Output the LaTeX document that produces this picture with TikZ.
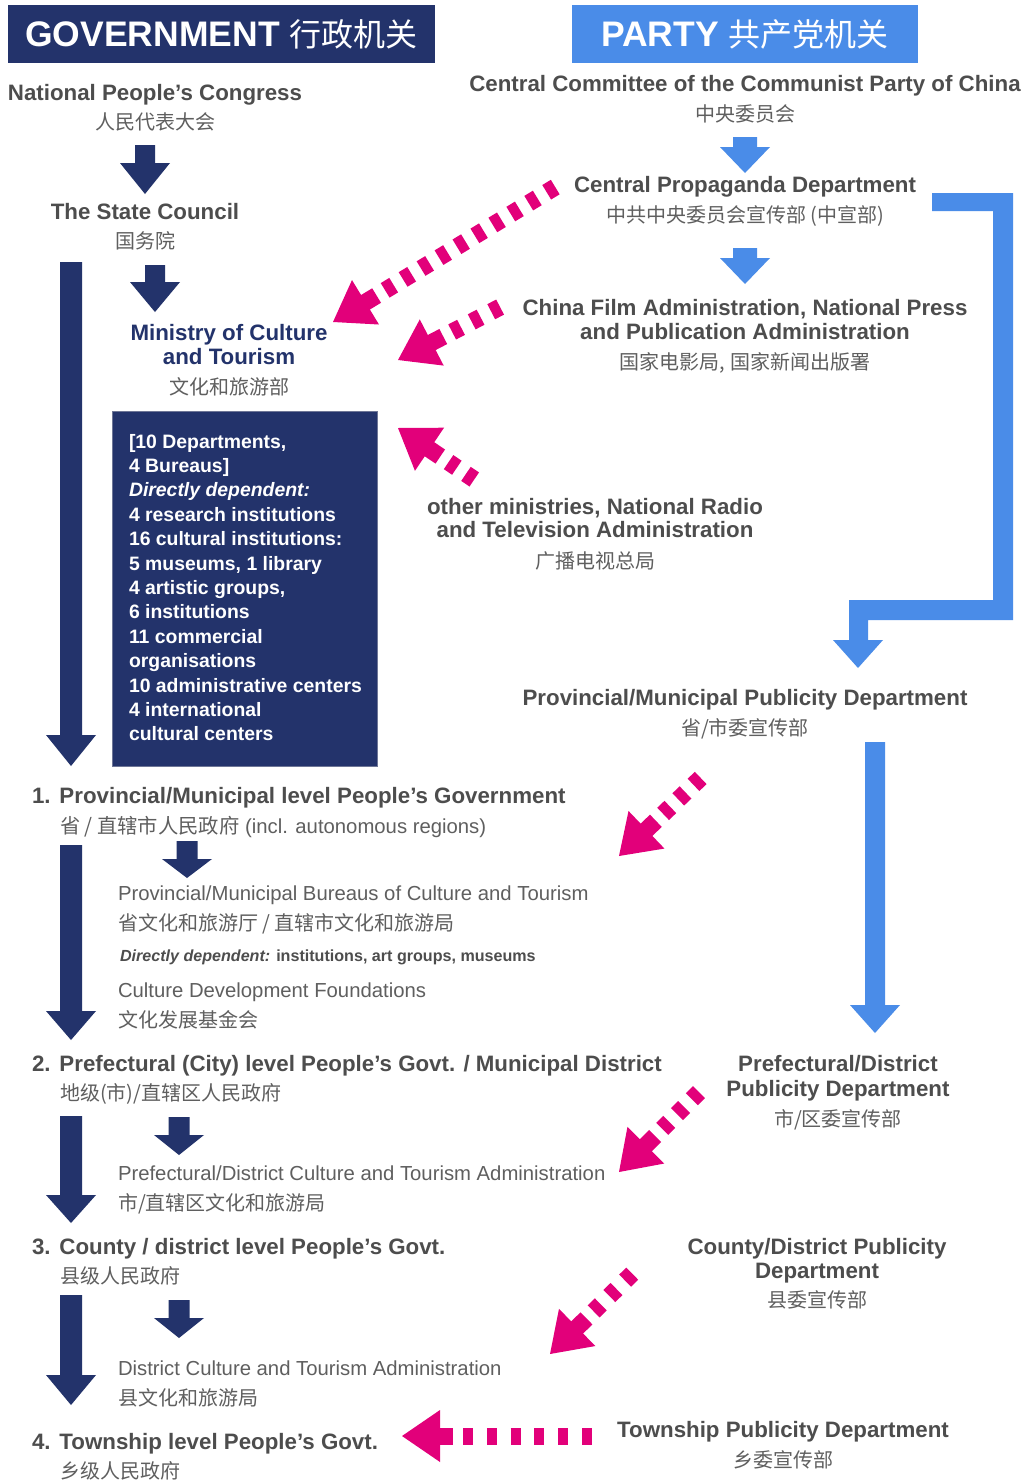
\documentclass[tikz,border=0pt]{standalone}
\usepackage{fontspec}
\setmainfont{Liberation Sans}
\newfontfamily\zhfont{Noto Sans CJK SC}
\usetikzlibrary{calc}
\definecolor{navy}{RGB}{35,51,107}
\definecolor{pblue}{RGB}{74,140,232}
\definecolor{pinkc}{RGB}{226,0,122}
\definecolor{tgray}{RGB}{77,77,77}
\definecolor{lgray}{RGB}{95,95,95}
\definecolor{boxedge}{RGB}{110,118,150}
% block arrow pointing down: colour, x, y top, y tip, head length, shaft half width
\newcommand\blockarrow[6]{%
  \fill[#1] ({#2-#6},#3) -- ({#2+#6},#3) -- ({#2+#6},{#4-#5}) -- ({#2+25},{#4-#5})
    -- (#2,#4) -- ({#2-25},{#4-#5}) -- ({#2-#6},{#4-#5}) -- cycle;}
% dashed pink arrow: start coordinate #1, tip coordinate #2, number of dashes #3, dash period #4
\newcommand\pinkarrow[4]{%
  \coordinate (#2-b) at ($(#2)!38pt!(#1)$);
  \fill[pinkc] (#2) -- ($(#2-b)!26pt!90:(#2)$) -- ($(#2-b)!26pt!-90:(#2)$) -- cycle;
  \draw[pinkc, line width=17pt] ($(#2)!36pt!(#1)$) -- ($(#2)!51pt!(#1)$);
  \foreach \i [evaluate=\i as \dA using 61+#4*(\i-1), evaluate=\i as \dB using 71+#4*(\i-1)] in {1,...,#3}
    {\draw[pinkc, line width=17pt] ($(#2)!\dA pt!(#1)$) -- ($(#2)!\dB pt!(#1)$);}}
\begin{document}
\begin{tikzpicture}[x=1pt,y=-1pt,
  every node/.style={inner sep=0pt, outer sep=0pt},
  lbl/.style={font=\fontsize{22.3}{24}\selectfont\bfseries, text=tgray, anchor=base},
  lblw/.style={lbl, anchor=base west},
  navylbl/.style={lbl, text=navy},
  zh/.style={font=\fontsize{20}{24}\selectfont\zhfont, text=lgray, anchor=base},
  zhw/.style={zh, anchor=base west},
  reg/.style={font=\fontsize{20.3}{24}\selectfont, text=lgray, anchor=base west},
  header/.style={font=\fontsize{35.5}{40}\selectfont\bfseries, text=white, minimum height=58pt}]
\useasboundingbox (0,0) rectangle (1026,1483);
\fill[white] (0,0) rectangle (1026,1483);

% headers
\node[header, fill=navy, minimum width=427pt] (gov) at (221.5,34) {GOVERNMENT {\fontsize{32}{36}\selectfont\zhfont\mdseries 行政机关}};
\node[header, fill=pblue, minimum width=346pt] (party) at (745,34) {PARTY {\fontsize{32}{36}\selectfont\zhfont\mdseries 共产党机关}};

% ---------------- government column ----------------
\node[lbl] (npc) at (155,100) {National People’s Congress};
\node[zh] (npczh) at (155,129) {人民代表大会};
\blockarrow{navy}{145}{145}{194}{31}{10}
\node[lbl] (sc) at (145,219) {The State Council};
\node[zh] (sczh) at (145,248) {国务院};
\blockarrow{navy}{155}{265}{312}{30}{10}
\node[navylbl] (moc1) at (229,340) {Ministry of Culture};
\node[navylbl] (moc2) at (229,364) {and Tourism};
\node[zh] (moczh) at (229,394) {文化和旅游部};

\node[fill=navy, draw=boxedge, line width=0.8pt, minimum width=265pt, minimum height=355pt, anchor=north west] (mocbox) at (112,411) {};
\node[anchor=north west, align=left, text=white, font=\fontsize{19.4}{24.4}\selectfont\bfseries] (mocboxtext) at (129,434) {%
[10 Departments,\\
4 Bureaus]\\
\textit{Directly dependent:}\\
4 research institutions\\
16 cultural institutions:\\
5 museums, 1 library\\
4 artistic groups,\\
6 institutions\\
11 commercial\\
organisations\\
10 administrative centers\\
4 international\\
cultural centers};

\blockarrow{navy}{71}{262}{766}{31}{11}

% level 1
\node[lblw] (l1) at (32,803) {1.\hspace{0.4em}Provincial/Municipal level People’s Government};
\node[reg] (l1zh) at (60,833) {{\zhfont 省 / 直辖市人民政府} (incl. autonomous regions)};
\blockarrow{navy}{187}{841}{878}{19}{10.5}
\blockarrow{navy}{71}{845}{1040}{29}{11}
\node[reg] (b1) at (118,900) {Provincial/Municipal Bureaus of Culture and Tourism};
\node[zhw] (b1zh) at (118,930) {省文化和旅游厅 / 直辖市文化和旅游局};
\node[anchor=base west, text=tgray, font=\fontsize{16.1}{18}\selectfont\bfseries] (dd) at (120,961) {\textit{Directly dependent:} institutions, art groups, museums};
\node[reg] (cdf) at (118,997) {Culture Development Foundations};
\node[zhw] (cdfzh) at (118,1027) {文化发展基金会};

% level 2
\node[lblw] (l2) at (32,1071) {2.\hspace{0.4em}Prefectural (City) level People’s Govt. / Municipal District};
\node[zhw] (l2zh) at (60,1100) {地级(市)/直辖区人民政府};
\blockarrow{navy}{71}{1116}{1223}{28}{11}
\blockarrow{navy}{179}{1117}{1155}{20}{10.5}
\node[reg] (pcta) at (118,1180) {Prefectural/District Culture and Tourism Administration};
\node[zhw] (pctazh) at (118,1210) {市/直辖区文化和旅游局};

% level 3
\node[lblw] (l3) at (32,1254) {3.\hspace{0.4em}County / district level People’s Govt.};
\node[zhw] (l3zh) at (60,1283) {县级人民政府};
\blockarrow{navy}{71}{1295}{1405}{30}{11}
\blockarrow{navy}{179}{1300}{1338}{20}{10.5}
\node[reg] (dcta) at (118,1375) {District Culture and Tourism Administration};
\node[zhw] (dctazh) at (118,1405) {县文化和旅游局};

% level 4
\node[lblw] (l4) at (32,1449) {4.\hspace{0.4em}Township level People’s Govt.};
\node[zhw] (l4zh) at (60,1478) {乡级人民政府};

% ---------------- party column ----------------
\node[lbl] (cc) at (745,91) {Central Committee of the Communist Party of China};
\node[zh] (cczh) at (745,121) {中央委员会};
\blockarrow{pblue}{745}{137}{173}{26}{12}
\node[lbl] (cpd) at (745,192) {Central Propaganda Department};
\node[zh] (cpdzh) at (745,222) {中共中央委员会宣传部 (中宣部)};
\blockarrow{pblue}{745}{248}{284}{26}{12}
\node[lbl] (cfa1) at (745,315) {China Film Administration, National Press};
\node[lbl] (cfa2) at (745,339) {and Publication Administration};
\node[zh] (cfazh) at (745,369) {国家电影局, 国家新闻出版署};
\node[lbl] (om1) at (595,514) {other ministries, National Radio};
\node[lbl] (om2) at (595,537) {and Television Administration};
\node[zh] (omzh) at (595,568) {广播电视总局};

% blue elbow connector
\fill[pblue] (932,193) -- (1013,193) -- (1013,620) -- (868,620) -- (868,640) -- (883,640)
  -- (858,668) -- (833,640) -- (849,640) -- (849,600) -- (993,600) -- (993,211) -- (932,211) -- cycle;

\node[lbl] (pmpd) at (745,705) {Provincial/Municipal Publicity Department};
\node[zh] (pmpdzh) at (745,735) {省/市委宣传部};
\blockarrow{pblue}{875}{742}{1033}{28}{10}
\node[lbl] (pdpd1) at (838,1071) {Prefectural/District};
\node[lbl] (pdpd2) at (838,1096) {Publicity Department};
\node[zh] (pdpdzh) at (838,1126) {市/区委宣传部};
\node[lbl] (cdpd1) at (817,1254) {County/District Publicity};
\node[lbl] (cdpd2) at (817,1278) {Department};
\node[zh] (cdpdzh) at (817,1307) {县委宣传部};
\node[lbl] (tpd) at (783,1437) {Township Publicity Department};
\node[zh] (tpdzh) at (783,1467) {乡委宣传部};

% ---------------- pink dashed arrows ----------------
\coordinate (p1s) at (557,186); \coordinate (p1t) at (333,322);
\coordinate (p2s) at (508,303); \coordinate (p2t) at (398,360);
\coordinate (p3s) at (478,482); \coordinate (p3t) at (398,428);
\coordinate (p4s) at (708,771); \coordinate (p4t) at (619,856);
\coordinate (p5s) at (708,1083); \coordinate (p5t) at (619,1172);
\coordinate (p6s) at (638,1268); \coordinate (p6t) at (550,1354);
\coordinate (p7s) at (592,1436); \coordinate (p7t) at (402,1436);
\pinkarrow{p1s}{p1t}{10}{21}
\pinkarrow{p2s}{p2t}{3}{22}
\pinkarrow{p3s}{p3t}{2}{21}
\pinkarrow{p4s}{p4t}{3}{21}
\pinkarrow{p5s}{p5t}{3}{21}
\pinkarrow{p6s}{p6t}{3}{22}
\pinkarrow{p7s}{p7t}{6}{23.8}
\end{tikzpicture}
\end{document}
